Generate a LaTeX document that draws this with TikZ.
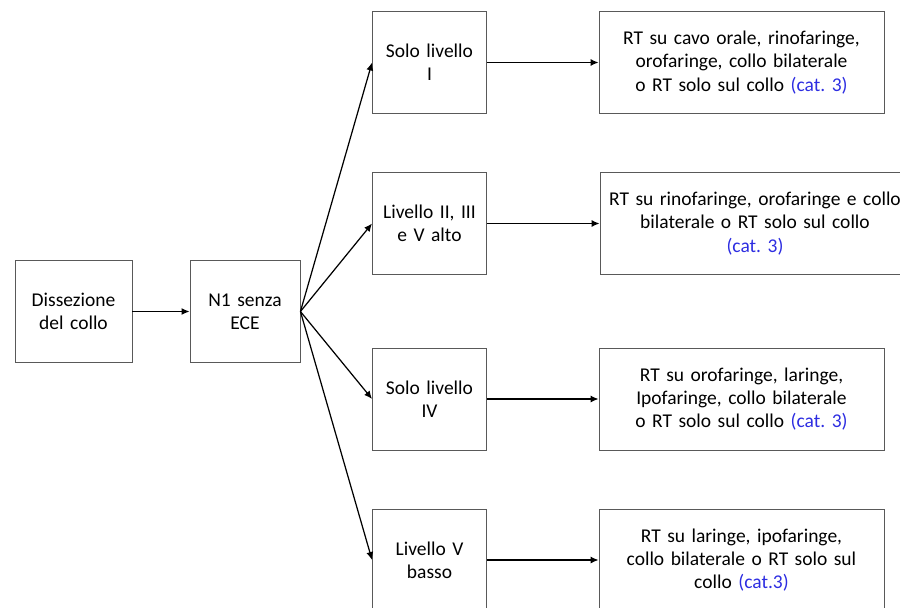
\documentclass[tikz,border=0pt]{standalone}
\usepackage{fontspec}
\setmainfont{Carlito}
\usetikzlibrary{arrows.meta}
\usetikzlibrary{positioning}
\definecolor{catblue}{RGB}{45,45,225}
\newcommand{\catnote}[1]{\textcolor{catblue}{#1}}

\begin{document}
\begin{tikzpicture}[x=0.02cm, y=-0.02cm,
    box/.style={draw=black!65, line width=0.5pt, align=center, inner sep=0pt,
        font=\fontsize{11.1}{13.2}\selectfont\frenchspacing, minimum height=2.04cm},
    stage/.style={box, minimum width=2.28cm, text width=2.1cm},
    treat/.style={box, minimum width=5.7cm, text width=5.5cm},
    link/.style={-{Latex[length=1.6mm,width=1.4mm]}, line width=0.7pt}]
\useasboundingbox (0,0) rectangle (900,608);
\node[box, minimum width=2.34cm, text width=2.2cm] (diss) at (73.5,311.5) {Dissezione\\del collo};
\node[box, minimum width=2.2cm, text width=2cm] (n1) at (245,311.5) {N1 senza\\ECE};
%
\node[stage] (lvA) at (429.5,62.5) {Solo livello\\I};
\node[stage] (lvB) at (429.5,223.5) {Livello II, III\\e V alto};
\node[stage] (lvC) at (429.5,399) {Solo livello\\IV};
\node[stage] (lvD) at (429.5,560) {Livello V\\basso};
%
\node[treat] (rtA) at (741.5,62.5) {RT su cavo orale, rinofaringe,\\orofaringe, collo bilaterale\\o RT solo sul collo \catnote{(cat. 3)}};
\node[treat, minimum width=6.2cm, text width=6.1cm] (rtB) at (755,223.5) {RT su rinofaringe, orofaringe e collo\\bilaterale o RT solo sul collo\\\catnote{(cat. 3)}};
\node[treat] (rtC) at (741.5,399) {RT su orofaringe, laringe,\\Ipofaringe, collo bilaterale\\o RT solo sul collo \catnote{(cat. 3)}};
\node[treat] (rtD) at (741.5,560) {RT su laringe, ipofaringe,\\collo bilaterale o RT solo sul\\collo \catnote{(cat.3)}};
%
\draw[link] (diss) -- (n1);
\foreach \i in {A,B,C,D}
    \draw[link] (n1.east) -- (lv\i.west);
\foreach \i in {A,B,C,D}
    \draw[link] (lv\i) -- (rt\i);
\end{tikzpicture}
\end{document}
